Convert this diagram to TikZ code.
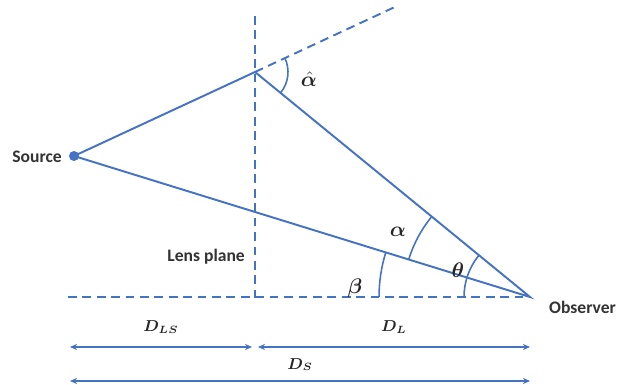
\documentclass[tikz,border=0pt]{standalone}
\usepackage{amsmath,amssymb,bm}
\usepackage{fontspec}
\setmainfont{Carlito}
\usetikzlibrary{arrows.meta,angles}
\definecolor{lensblue}{RGB}{68,114,196}
\tikzset{
  ray/.style={lensblue,line width=1.1pt},
  guide/.style={lensblue,line width=1.1pt,dash pattern=on 5pt off 3.2pt},
  anglearc/.style={draw=lensblue,line width=0.9pt},
  dist/.style={lensblue,line width=0.8pt,{Stealth[length=4pt,width=3.5pt]}-{Stealth[length=4pt,width=3.5pt]}},
  lbl/.style={font=\bfseries,text=black!80},
  sym/.style={text=black!85,font=\large},
  dsym/.style={text=black!85,font=\small}
}

\begin{document}
\begin{tikzpicture}[x=0.02cm,y=-0.02cm]
\useasboundingbox (0,0) rectangle (619,385);
\coordinate (src) at (74,156);
\coordinate (lens) at (255,72);
\coordinate (obs) at (530,297);
\coordinate (ext) at (397,6);
\coordinate (top) at (255,16);
\coordinate (foot) at (255,298);
\coordinate (left) at (68,297);
\draw[guide] (top)--(foot);
\draw[guide] (left)--(obs);
\draw[guide] (lens)--(ext);
\draw[ray] (src)--(lens)--(obs)--cycle;
\fill[lensblue] (src) circle (0.1cm);
\pic[anglearc,angle radius=0.66cm] {angle = obs--lens--ext};
\pic[anglearc,angle radius=2.54cm] {angle = lens--obs--src};
\pic[anglearc,angle radius=1.32cm] {angle = lens--obs--left};
\pic[anglearc,angle radius=3.02cm] {angle = src--obs--left};
\node[sym] (ahat) at (309,79) {$\hat{\bm\alpha}$};
\node[sym] (alab) at (398,232) {$\bm\alpha$};
\node[sym] (tlab) at (458,270) {$\bm\theta$};
\node[sym] (blab) at (355,288) {$\bm\beta$};
\node[lbl,anchor=east] (srcname) at (68,157) {Source};
\node[lbl,anchor=east] (lensname) at (251,257) {Lens plane};
\node[lbl,anchor=west] (obsname) at (543,307) {Observer};
\coordinate (ls1) at (70,347);
\coordinate (ls2) at (252,347);
\coordinate (l1) at (258,347);
\coordinate (l2) at (530,347);
\coordinate (s1) at (70,381);
\coordinate (s2) at (530,381);
\draw[dist] (ls1)--node[dsym,above=4pt] {$\bm{D_{LS}}$} (ls2);
\draw[dist] (l1)--node[dsym,above=4pt] {$\bm{D_L}$} (l2);
\draw[dist] (s1)--node[dsym,above=2pt] {$\bm{D_S}$} (s2);
\end{tikzpicture}
\end{document}
